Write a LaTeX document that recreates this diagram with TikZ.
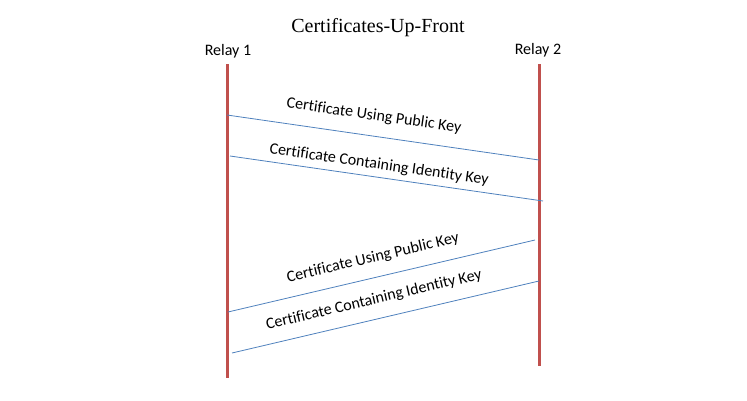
\documentclass[tikz,border=0pt]{standalone}
\usepackage{fontspec}
\setmainfont{Carlito}[Ligatures=NoCommon]
\newfontfamily\titlefont{Liberation Serif}
\usepackage{xcolor}
\usepackage{tikz}
\definecolor{lifered}{HTML}{C0504D}
\definecolor{msgblue}{HTML}{4F81BD}

\begin{document}
\begin{tikzpicture}[
  x=1pt, y=-1pt,
  every node/.style = {font=\fontsize{16}{19}\selectfont, inner sep=0pt},
  lifeline/.style   = {draw=lifered, line width=3pt},
  msg/.style        = {draw=msgblue, line width=0.8pt},
  lbl/.style        = {font=\fontsize{16}{19}\selectfont},
]
\useasboundingbox (0,0) rectangle (747,400);

%% ── Shared values ─────────────────────────────────────────────────────
\def\Ax{227}     % relay 1 lifeline
\def\Bx{539}     % relay 2 lifeline

% ── Title and relay names ──────────────────────────────────────────────
\node[font={\titlefont\fontsize{20}{24}\selectfont}] (title) at (378,28) {Certificates-Up-Front};
\node (relayA) at (228,51) {Relay 1};
\node (relayB) at (538,50) {Relay 2};

% ── Lifelines ──────────────────────────────────────────────────────────
\coordinate (Atop) at (\Ax,64);
\coordinate (Abot) at (\Ax,378);
\coordinate (Btop) at (\Bx,64);
\coordinate (Bbot) at (\Bx,366);
\draw[lifeline] (Atop) -- (Abot);
\draw[lifeline] (Btop) -- (Bbot);

% ── Relay 1 -> Relay 2 ─────────────────────────────────────────────────
\coordinate (m1s) at (\Ax,115);  \coordinate (m1e) at (\Bx,160);
\coordinate (m2s) at (230,156);  \coordinate (m2e) at (543,201);
\draw[msg] (m1s) -- (m1e);
\draw[msg] (m2s) -- (m2e);
\node[lbl, rotate=-8.2] (certA) at (374,116) {Certificate Using Public Key};
\node[lbl, rotate=-8.2] (idA)   at (379,165) {Certificate Containing Identity Key};

% ── Relay 2 -> Relay 1 ─────────────────────────────────────────────────
\coordinate (m3s) at (228,312);  \coordinate (m3e) at (535,240);
\coordinate (m4s) at (232,353);  \coordinate (m4e) at (\Bx,281);
\draw[msg] (m3s) -- (m3e);
\draw[msg] (m4s) -- (m4e);
\node[lbl, rotate=13.2] (certB) at (373,258) {Certificate Using Public Key};
\node[lbl, rotate=13.2] (idB)   at (374,300) {Certificate Containing Identity Key};

\end{tikzpicture}
\end{document}
